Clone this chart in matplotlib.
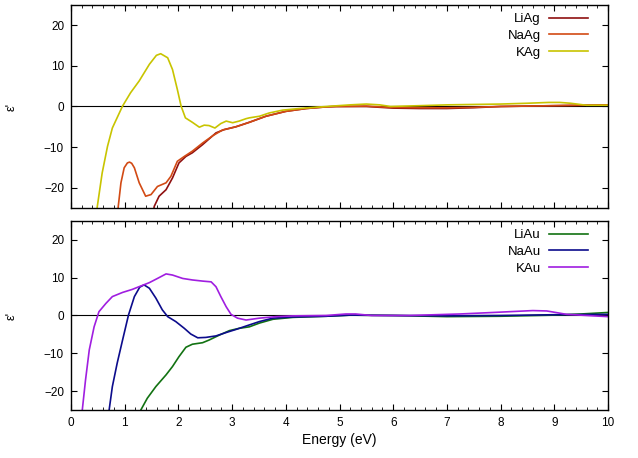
import matplotlib
matplotlib.use("Agg")
import matplotlib.pyplot as plt
from matplotlib.ticker import MultipleLocator

plt.rcParams["font.family"] = ["Liberation Sans", "DejaVu Sans"]
plt.rcParams["font.size"] = 8.5

# ---- data (energy in eV, eps') ----
liag_x = [1.52, 1.55, 1.64, 1.77, 1.89, 2.01, 2.14, 2.26, 2.45, 2.70, 2.85, 3.07, 3.32, 3.63, 4.0,
          4.38, 4.75, 4.94, 5.5, 6.0, 6.5, 7.0, 7.5, 8.0, 9.0, 10.0]
liag_y = [-27, -24.6, -22.1, -20.5, -17.6, -13.9, -12.3, -11.4, -9.4, -6.5, -5.7, -5.0, -3.9, -2.4, -1.2,
          -0.5, -0.1, 0.0, 0.0, -0.4, -0.5, -0.5, -0.3, 0.0, 0.2, 0.4]

naag_x = [0.86, 0.88, 0.93, 0.99, 1.05, 1.09, 1.13, 1.18, 1.27, 1.39, 1.49, 1.61, 1.77, 1.86, 1.98,
          2.11, 2.26, 2.45, 2.64, 2.82, 3.07, 3.32, 3.63, 4.0, 4.38, 4.75, 4.94, 5.5, 5.9, 6.5,
          7.0, 7.5, 8.0, 9.0, 10.0]
naag_y = [-28, -24.6, -18.8, -15.1, -13.9, -13.7, -14.0, -15.1, -18.8, -22.1, -21.7, -19.7, -18.8, -17.2, -13.5,
          -12.3, -11.0, -9.0, -7.2, -5.8, -5.0, -3.9, -2.4, -1.2, -0.5, -0.1, 0.0, 0.1, -0.2, -0.3,
          -0.3, -0.2, 0.0, 0.2, 0.4]

kag_x = [0.46, 0.49, 0.58, 0.68, 0.77, 0.93, 0.96, 1.11, 1.27, 1.46, 1.59, 1.67, 1.80, 1.89, 1.98,
         2.05, 2.13, 2.26, 2.39, 2.48, 2.57, 2.68, 2.79, 2.89, 3.01, 3.13, 3.26, 3.32, 3.51, 3.69,
         3.94, 4.25, 4.57, 4.87, 5.2, 5.5, 5.75, 5.95, 6.5, 7.0, 7.5, 8.0, 8.5, 8.9, 9.1, 9.3,
         9.6, 10.0]
kag_y = [-28, -24.6, -16.4, -9.8, -5.3, -0.74, 0.1, 3.4, 6.3, 10.4, 12.6, 13.0, 12.0, 9.1, 4.2,
         0.1, -2.8, -3.9, -5.1, -4.6, -4.7, -5.3, -4.2, -3.6, -4.0, -3.6, -3.0, -2.8, -2.4, -1.6,
         -0.9, -0.5, -0.17, 0.1, 0.4, 0.6, 0.4, 0.0, 0.2, 0.4, 0.5, 0.6, 0.8, 1.0, 1.0, 0.8,
         0.3, 0.3]

liau_x = [1.27, 1.30, 1.42, 1.58, 1.77, 1.89, 2.01, 2.14, 2.26, 2.45, 2.57, 2.76, 2.95, 3.13, 3.32,
          3.51, 3.76, 4.13, 4.75, 5.2, 6.0, 7.0, 8.0, 9.0, 9.5, 10.0]
liau_y = [-27, -25, -21.9, -18.8, -15.7, -13.5, -10.9, -8.4, -7.6, -7.2, -6.5, -5.2, -4.0, -3.4, -3.0,
          -2.0, -1.0, -0.5, -0.2, 0.1, 0.0, -0.3, -0.2, 0.1, 0.4, 0.8]

naau_x = [0.69, 0.71, 0.77, 0.86, 0.96, 1.07, 1.18, 1.28, 1.36, 1.46, 1.58, 1.70, 1.80, 1.95, 2.11,
          2.23, 2.36, 2.51, 2.70, 2.89, 3.07, 3.32, 3.51, 3.76, 4.13, 4.75, 5.2, 6.0, 7.0, 8.0,
          9.0, 10.0]
naau_y = [-30, -25, -18.8, -12.6, -6.5, 0.1, 5.0, 7.5, 8.1, 7.2, 4.6, 1.5, -0.3, -1.6, -3.4,
          -4.9, -5.9, -5.8, -5.4, -4.5, -3.7, -2.5, -1.6, -0.7, -0.4, -0.2, 0.1, 0.0, -0.1, 0.0,
          0.2, 0.3]

kau_x = [0.19, 0.21, 0.27, 0.34, 0.43, 0.52, 0.65, 0.77, 0.96, 1.14, 1.30, 1.46, 1.61, 1.77, 1.89,
         2.08, 2.26, 2.45, 2.61, 2.70, 2.79, 2.89, 2.98, 3.10, 3.26, 3.51, 3.82, 4.13, 4.75, 5.12,
         5.3, 5.6, 6.3, 7.24, 7.86, 8.6, 8.86, 9.23, 9.73, 10.0]
kau_y = [-30, -25, -17.1, -9.1, -3.0, 1.0, 3.2, 5.0, 6.1, 6.9, 7.8, 8.7, 9.8, 11.0, 10.7,
         9.8, 9.4, 9.1, 8.9, 7.6, 5.0, 2.3, 0.3, -0.7, -1.2, -0.7, -0.3, -0.1, 0.0, 0.4,
         0.4, 0.0, 0.0, 0.4, 0.8, 1.3, 1.2, 0.3, -0.1, -0.3]

top_series = [("LiAg", liag_x, liag_y, "#8f1010"),
              ("NaAg", naag_x, naag_y, "#d24a14"),
              ("KAg", kag_x, kag_y, "#c8c400")]
bot_series = [("LiAu", liau_x, liau_y, "#127212"),
              ("NaAu", naau_x, naau_y, "#0c0c8c"),
              ("KAu", kau_x, kau_y, "#a01ee0")]

fig = plt.figure(figsize=(6.38, 4.58), dpi=100)
ax1 = fig.add_axes([0.1113, 0.5459, 0.8417, 0.4432])
ax2 = fig.add_axes([0.1113, 0.1048, 0.8417, 0.4127])

for ax, series in ((ax1, top_series), (ax2, bot_series)):
    ax.axhline(0, color="black", lw=0.8, zorder=1)
    for name, xs, ys, c in series:
        ax.plot(xs, ys, color=c, lw=1.2, label=name, zorder=2)
    ax.set_xlim(0, 10)
    ax.set_ylim(-25, 25)
    ax.set_yticks([-20, -10, 0, 10, 20])
    ax.xaxis.set_major_locator(MultipleLocator(1))
    ax.xaxis.set_minor_locator(MultipleLocator(0.2))
    ax.tick_params(which="both", direction="in", top=True, right=True, labelsize=8.5)
    ax.tick_params(which="major", length=4.5, width=0.8, pad=5)
    ax.tick_params(which="minor", length=2.2, width=0.6)
    for s in ax.spines.values():
        s.set_linewidth(1.0)
    ax.set_ylabel("ε'", fontsize=9, labelpad=0)
    ax.yaxis.set_label_coords(-0.1, 0.5)
    ax.legend(loc="upper right", frameon=False, markerfirst=False, fontsize=9.5,
              handlelength=3.0, handletextpad=0.6, labelspacing=0.35,
              borderaxespad=0.2, bbox_to_anchor=(0.978, 1.0))

ax1.tick_params(labelbottom=False)
ax2.set_xlabel("Energy (eV)", fontsize=10, labelpad=3)

fig.savefig("out.png", dpi=100)
